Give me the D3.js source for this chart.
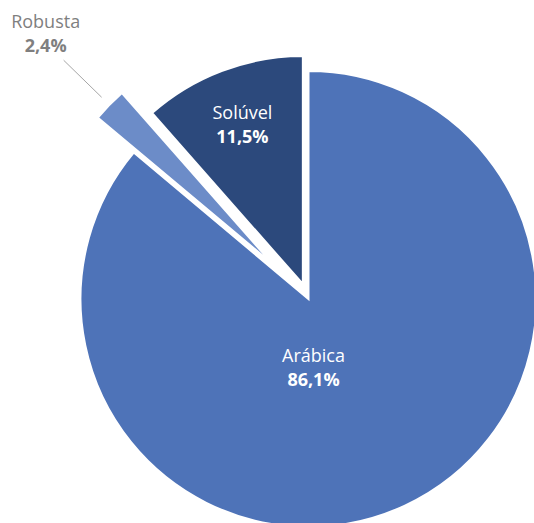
<!DOCTYPE html>
<html>
<head>
<meta charset="utf-8">
<script src="https://cdn.jsdelivr.net/npm/d3@7"></script>
<style>
  body { margin: 0; background: #fff; }
  svg { display: block; font-family: "Open Sans", sans-serif; }
</style>
</head>
<body>
<div id="chart"></div>
<script>
// 1: DATA
const categories = ["Arábica", "Robusta", "Solúvel"];
const shares = [86.1, 2.4, 11.5];
const labels = ["86,1%", "2,4%", "11,5%"];
const colors = ["#4e73b8", "#6c8cc8", "#2c497c"];
const explode = [0, 50, 16];

// 2: SIZES
const width = 534, height = 523;
const cx = 308.5, cy = 299, radius = 228;

const svg = d3.select("#chart")
    .append("svg")
    .attr("width", width)
    .attr("height", height);

const g = svg.append("g").attr("transform", `translate(${cx},${cy})`);

const data = categories.map((c, i) => ({ name: c, value: shares[i], label: labels[i], color: colors[i], explode: explode[i] }));

// 3: PIE
const pie = d3.pie().sort(null).value(d => d.value);
const arc = d3.arc().innerRadius(0).outerRadius(radius);
const arcs = pie(data);

function offset(d, dist) {
    const a = (d.startAngle + d.endAngle) / 2;
    return [Math.sin(a) * dist, -Math.cos(a) * dist];
}

const slices = g.selectAll(".slice")
    .data(arcs)
    .enter()
    .append("g")
    .attr("class", "slice")
    .attr("transform", d => {
        const [x, y] = offset(d, d.data.explode);
        return `translate(${x},${y})`;
    });

slices.append("path")
    .attr("d", arc)
    .attr("fill", d => d.data.color)
    .attr("stroke", "#fff")
    .attr("stroke-width", 2);

// 4: LABELS
// Arábica - inside, below center
const arab = arcs[0];
g.append("text")
    .attr("x", 5).attr("y", 63)
    .attr("text-anchor", "middle").attr("fill", "#fff")
    .style("font-size", "18px")
    .text(arab.data.name);
g.append("text")
    .attr("x", 5).attr("y", 87)
    .attr("text-anchor", "middle").attr("fill", "#fff")
    .style("font-size", "18px").style("font-weight", "bold")
    .text(arab.data.label);

// Solúvel - inside its slice
const sol = arcs[2];
const [sx, sy] = offset(sol, sol.data.explode + radius * 0.75);
g.append("text")
    .attr("x", sx).attr("y", sy - 5)
    .attr("text-anchor", "middle").attr("fill", "#fff")
    .style("font-size", "18px")
    .text(sol.data.name);
g.append("text")
    .attr("x", sx).attr("y", sy + 19)
    .attr("text-anchor", "middle").attr("fill", "#fff")
    .style("font-size", "18px").style("font-weight", "bold")
    .text(sol.data.label);

// Robusta - outside with leader line
const rob = arcs[1];
const [l1x, l1y] = offset(rob, rob.data.explode + radius + 11);
const [l2x, l2y] = offset(rob, rob.data.explode + radius + 64);
g.append("line")
    .attr("x1", l1x).attr("y1", l1y)
    .attr("x2", l2x).attr("y2", l2y)
    .attr("stroke", "#a6a6a6").attr("stroke-width", 1);
g.append("text")
    .attr("x", l2x - 18).attr("y", l2y - 32)
    .attr("text-anchor", "middle").attr("fill", "#7f7f7f")
    .style("font-size", "18px")
    .text(rob.data.name);
g.append("text")
    .attr("x", l2x - 18).attr("y", l2y - 8)
    .attr("text-anchor", "middle").attr("fill", "#7f7f7f")
    .style("font-size", "18px").style("font-weight", "bold")
    .text(rob.data.label);
</script>
</body>
</html>
